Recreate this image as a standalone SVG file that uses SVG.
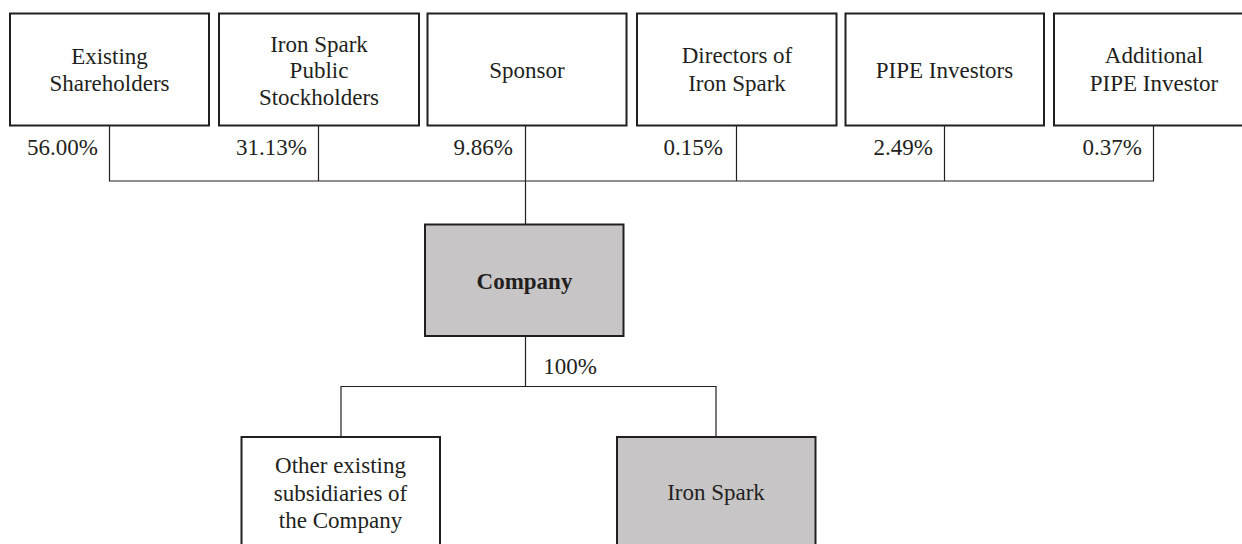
<svg xmlns="http://www.w3.org/2000/svg" width="1242" height="544" viewBox="0 0 1242 544">
<style>
.box{fill:#ffffff;stroke:#231f20;stroke-width:2}
.grey{fill:#c7c5c6;stroke:#231f20;stroke-width:2}
.t{font-family:"Liberation Serif","Times New Roman",serif;font-size:23px;fill:#231f20;text-anchor:middle}
.b{font-weight:bold}
.p{font-family:"Liberation Serif","Times New Roman",serif;font-size:23px;fill:#231f20;text-anchor:end}
.c{fill:none;stroke:#231f20;stroke-width:1.2}
</style>
<rect width="1242" height="544" fill="#ffffff"/>
<g id="connectors">
<path class="c" d="M109.5 125.5V181H1153.5V125.5M318.5 125.5V181M525.5 125.5V224M736.5 125.5V181M944.5 125.5V181"/>
<path class="c" d="M525.5 336V386.5M341 437V386.5H716V437"/>
<text class="p" x="98" y="155">56.00%</text>
<text class="p" x="307" y="155">31.13%</text>
<text class="p" x="513" y="155">9.86%</text>
<text class="p" x="723" y="155">0.15%</text>
<text class="p" x="933" y="155">2.49%</text>
<text class="p" x="1142" y="155">0.37%</text>
<text class="p" x="597" y="374">100%</text>
</g>
<g id="existing-shareholders">
<rect class="box" x="10" y="13.5" width="199" height="112"/>
<text class="t" x="109.5" y="64">Existing</text>
<text class="t" x="109.5" y="91">Shareholders</text>
</g>
<g id="iron-spark-public">
<rect class="box" x="219" y="13.5" width="200" height="112"/>
<text class="t" x="319" y="52">Iron Spark</text>
<text class="t" x="319" y="78">Public</text>
<text class="t" x="319" y="105">Stockholders</text>
</g>
<g id="sponsor">
<rect class="box" x="427.5" y="13.5" width="199" height="112"/>
<text class="t" x="527" y="78">Sponsor</text>
</g>
<g id="directors">
<rect class="box" x="637" y="13.5" width="199.5" height="112"/>
<text class="t" x="737" y="63">Directors of</text>
<text class="t" x="737" y="91">Iron Spark</text>
</g>
<g id="pipe-investors">
<rect class="box" x="845.5" y="13.5" width="198.5" height="112"/>
<text class="t" x="944.5" y="78">PIPE Investors</text>
</g>
<g id="additional-pipe">
<rect class="box" x="1054" y="13.5" width="200" height="112"/>
<text class="t" x="1154" y="63">Additional</text>
<text class="t" x="1154" y="91">PIPE Investor</text>
</g>
<g id="company">
<rect class="grey" x="425" y="224.5" width="198.5" height="111.5"/>
<text class="t b" x="524.5" y="289">Company</text>
</g>
<g id="other-subsidiaries">
<rect class="box" x="241.5" y="437" width="198.5" height="112"/>
<text class="t" x="340.5" y="473">Other existing</text>
<text class="t" x="340.5" y="501">subsidiaries of</text>
<text class="t" x="340.5" y="528">the Company</text>
</g>
<g id="iron-spark">
<rect class="grey" x="617" y="437" width="198.5" height="112"/>
<text class="t" x="716" y="500">Iron Spark</text>
</g>
</svg>
